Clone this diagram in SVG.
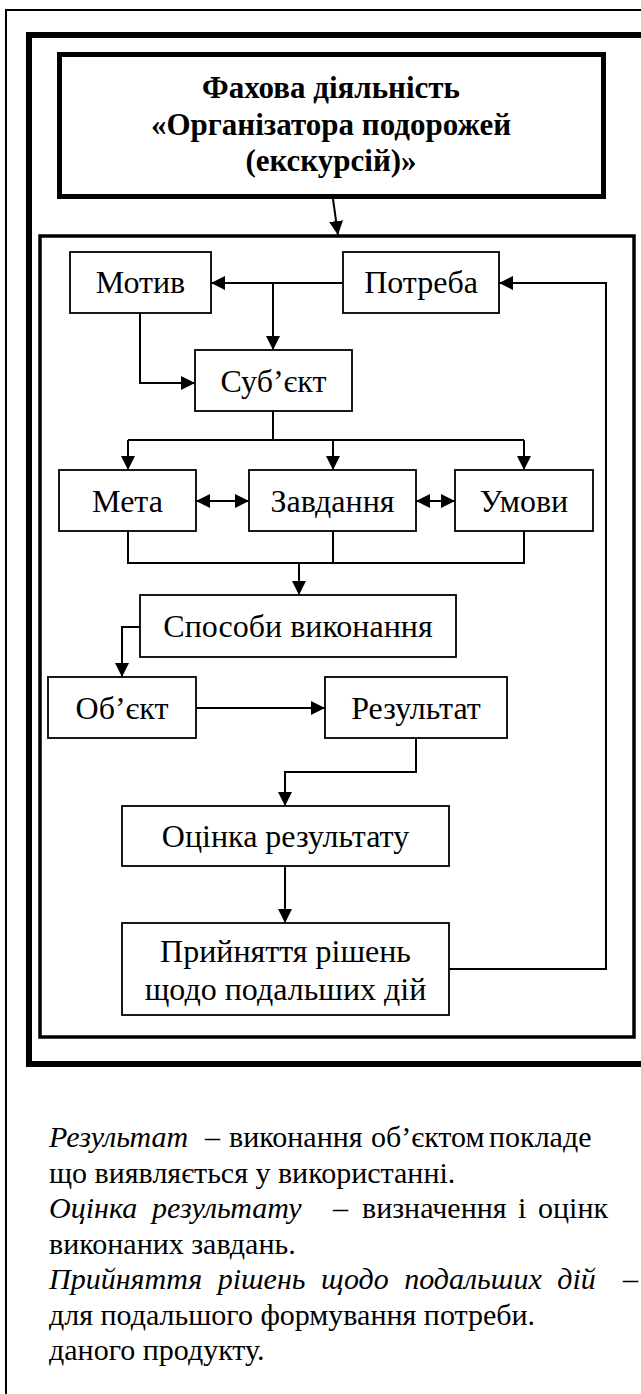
<svg xmlns="http://www.w3.org/2000/svg" width="641" height="1394" viewBox="0 0 641 1394">
<style>
.frame{fill:none;stroke:#000}
.node rect{fill:#fff;stroke:#000;stroke-width:1.8}
.node text{font-family:"Liberation Serif","Times New Roman",serif;font-size:32px;text-anchor:middle;fill:#000}
.title text{font-family:"Liberation Serif","Times New Roman",serif;font-size:31px;font-weight:bold;text-anchor:middle;fill:#000}
.conn{fill:none;stroke:#000;stroke-width:2}
.note{font-family:"Liberation Serif","Times New Roman",serif;font-size:30px;fill:#000}
.it{font-style:italic}
</style>
<defs>
<marker id="ah" viewBox="0 0 14 14" refX="14" refY="7" markerWidth="14" markerHeight="14" markerUnits="userSpaceOnUse" orient="auto-start-reverse">
<path d="M0,0 L14,7 L0,14 Z" fill="#000"/>
</marker>
</defs>
<rect width="641" height="1394" fill="#fff"/>
<g id="frames">
<path class="frame" d="M6,1394 V10 H641" stroke-width="2"/>
<rect class="frame" x="29" y="35" width="700" height="1029" stroke-width="6"/>
<rect class="frame" x="40" y="236" width="594" height="801" stroke-width="3.5"/>
</g>
<g id="title" class="title">
<rect x="59.5" y="54.5" width="544" height="142" fill="#fff" stroke="#000" stroke-width="5"/>
<text x="331" y="98">Фахова діяльність</text>
<text x="331" y="135">«Організатора подорожей</text>
<text x="331" y="171">(екскурсій)»</text>
</g>
<g id="connectors" class="conn">
<path d="M333,199 L338,235" marker-end="url(#ah)"/>
<path d="M343,283 H211" marker-end="url(#ah)"/>
<path d="M273,283 V350" marker-end="url(#ah)"/>
<path d="M140,313 V383 H195" marker-end="url(#ah)"/>
<path d="M449,969 H606 V283 H499" marker-end="url(#ah)"/>
<path d="M273,411 V440"/>
<path d="M128,440 H524"/>
<path d="M128,440 V470" marker-end="url(#ah)"/>
<path d="M333,440 V470" marker-end="url(#ah)"/>
<path d="M524,440 V470" marker-end="url(#ah)"/>
<path d="M196,501 H249" marker-start="url(#ah)" marker-end="url(#ah)"/>
<path d="M416,501 H455" marker-start="url(#ah)" marker-end="url(#ah)"/>
<path d="M128,531 V563 H524 V531"/>
<path d="M333,531 V563"/>
<path d="M299,563 V595" marker-end="url(#ah)"/>
<path d="M140,627 H122 V677" marker-end="url(#ah)"/>
<path d="M196,708 H325" marker-end="url(#ah)"/>
<path d="M416,738 V772 H285 V806" marker-end="url(#ah)"/>
<path d="M285,866 V923" marker-end="url(#ah)"/>
</g>
<g id="motyv" class="node"><rect x="70" y="252" width="141" height="61"/><text x="140.5" y="293">Мотив</text></g>
<g id="potreba" class="node"><rect x="343" y="252" width="156" height="61"/><text x="421" y="293">Потреба</text></g>
<g id="subiekt" class="node"><rect x="195" y="350" width="157" height="61"/><text x="273.5" y="392">Суб’єкт</text></g>
<g id="meta" class="node"><rect x="59" y="470" width="137" height="61"/><text x="127.5" y="512">Мета</text></g>
<g id="zavdannia" class="node"><rect x="249" y="470" width="167" height="61"/><text x="332.5" y="512">Завдання</text></g>
<g id="umovy" class="node"><rect x="455" y="470" width="138" height="61"/><text x="524" y="512">Умови</text></g>
<g id="sposoby" class="node"><rect x="140" y="595" width="316" height="62"/><text x="298" y="637">Способи виконання</text></g>
<g id="obiekt" class="node"><rect x="48" y="677" width="148" height="61"/><text x="122" y="719">Об’єкт</text></g>
<g id="rezultat" class="node"><rect x="325" y="677" width="182" height="61"/><text x="416" y="719">Результат</text></g>
<g id="otsinka" class="node"><rect x="122" y="806" width="327" height="60"/><text x="285.5" y="847">Оцінка результату</text></g>
<g id="pryiniattia" class="node"><rect x="122" y="923" width="327" height="92"/><text x="285.5" y="962">Прийняття рішень</text><text x="285.5" y="1000">щодо подальших дій</text></g>
<g id="notes" class="note">
<text y="1147"><tspan x="49" class="it">Результат</tspan><tspan x="205">–</tspan><tspan x="229">виконання</tspan><tspan x="371">об’єктом</tspan><tspan x="489">покладе</tspan></text>
<text x="49" y="1182.5">що виявляється у використанні.</text>
<text y="1218"><tspan x="49" class="it">Оцінка</tspan><tspan x="152" class="it">результату</tspan><tspan x="333">–</tspan><tspan x="362">визначення</tspan><tspan x="518">і</tspan><tspan x="538">оцінк</tspan></text>
<text x="49" y="1253.5">виконаних завдань.</text>
<text y="1289"><tspan x="49" class="it" word-spacing="8">Прийняття рішень щодо подальших дій</tspan><tspan x="623">–</tspan></text>
<text x="49" y="1324.5">для подальшого формування потреби.</text>
<text x="49" y="1360">даного продукту.</text>
</g>
</svg>
